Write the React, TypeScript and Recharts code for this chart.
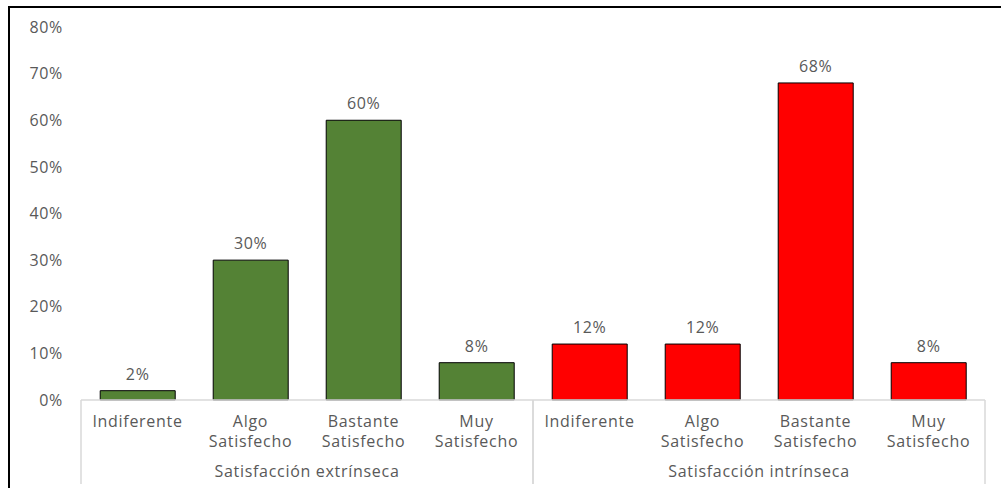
import React from 'react';
import { Bar, BarChart, Cell, LabelList, XAxis, YAxis } from 'recharts';

const categories = [
  'Indiferente',
  'Algo Satisfecho',
  'Bastante Satisfecho',
  'Muy Satisfecho',
  'Indiferente',
  'Algo Satisfecho',
  'Bastante Satisfecho',
  'Muy Satisfecho',
];
const groups = ['Satisfacción extrínseca', 'Satisfacción intrínseca'];
const groupOf = [0, 0, 0, 0, 1, 1, 1, 1];
const values = [2, 30, 60, 8, 12, 12, 68, 8];
const groupColors = ['#548235', '#FF0000'];
const yTicks = [0, 10, 20, 30, 40, 50, 60, 70, 80];

const chartData = categories.map((name, i) => ({
  key: `${i}`,
  name,
  group: groups[groupOf[i]],
  value: values[i],
}));

const FONT = '"Open Sans", sans-serif';
const TEXT = '#595959';
const LINE = '#d9d9d9';
const FS = 16;
const LS = 0.7;

const CategoryTick = (props: any) => {
  const { x, y, payload, index } = props;
  const half = payload.offset ?? 56;
  const item = chartData[index];
  const words = item.name.split(' ');
  const lines = words.length > 1 ? [words[0], words.slice(1).join(' ')] : words;
  const first = index === 0 || groupOf[index - 1] !== groupOf[index];
  const last = index === chartData.length - 1 || groupOf[index + 1] !== groupOf[index];
  const startOfGroup = groupOf.indexOf(groupOf[index]);
  const isMid = index - startOfGroup === 1;
  return (
    <g>
      {lines.map((l, k) => (
        <text
          key={k}
          x={x}
          y={y + 19 + k * 20}
          textAnchor="middle"
          fill={TEXT}
          fontSize={FS}
          fontFamily={FONT}
          letterSpacing={LS}
        >
          {l}
        </text>
      ))}
      {first && <line x1={x - half} x2={x - half} y1={y - 8} y2={y + 76} stroke={LINE} strokeWidth={1.5} />}
      {last && <line x1={x + half} x2={x + half} y1={y - 8} y2={y + 76} stroke={LINE} strokeWidth={1.5} />}
      {isMid && (
        <text
          x={x + half}
          y={y + 69}
          textAnchor="middle"
          fill={TEXT}
          fontSize={FS}
          fontFamily={FONT}
          letterSpacing={LS}
        >
          {item.group}
        </text>
      )}
    </g>
  );
};

export default function App() {
  return (
    <div
      style={{
        position: 'absolute',
        left: 8,
        top: 6,
        width: 993,
        height: 482,
        borderTop: '2px solid #000',
        borderLeft: '2px solid #000',
        background: '#fff',
      }}
    >
      <BarChart
        width={985}
        height={480}
        data={chartData}
        margin={{ top: 19, right: 10, bottom: 0, left: 0 }}
        barCategoryGap="17%"
      >
        <YAxis
          type="number"
          domain={[0, 80]}
          ticks={yTicks}
          tickFormatter={(v) => `${v}%`}
          axisLine={false}
          tickLine={false}
          tickSize={0}
          tickMargin={18}
          width={71}
          tick={{ fill: TEXT, fontSize: FS, fontFamily: FONT, letterSpacing: LS }}
        />
        <XAxis
          dataKey="key"
          type="category"
          height={88}
          axisLine={{ stroke: LINE, strokeWidth: 1.5 }}
          tickLine={false}
          interval={0}
          tick={<CategoryTick />}
        />
        <Bar dataKey="value" isAnimationActive={false} stroke="#000" strokeWidth={1}>
          {chartData.map((d, i) => (
            <Cell key={i} fill={groupColors[groupOf[i]]} />
          ))}
          <LabelList
            dataKey="value"
            position="top"
            offset={11}
            formatter={(v: any) => `${v}%`}
            fill={TEXT}
            fontSize={FS}
            fontFamily={FONT}
            letterSpacing={LS}
          />
        </Bar>
      </BarChart>
    </div>
  );
}
